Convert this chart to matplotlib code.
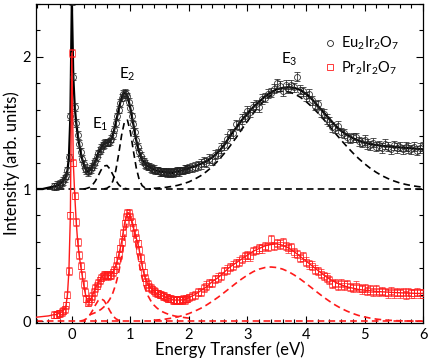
import numpy as np
import matplotlib
matplotlib.use('Agg')
import matplotlib.pyplot as plt
from matplotlib.lines import Line2D
from matplotlib.ticker import MultipleLocator

plt.rcParams['font.family'] = ['Lato', 'DejaVu Sans']
plt.rcParams['mathtext.default'] = 'regular'

# energy grids (eV): dense below 2 eV, coarser above
e_lo = np.round(np.arange(-0.3, 2.0001, 0.025), 3)
e_hi = np.round(np.arange(2.05, 6.0001, 0.05), 2)

# Eu2Ir2O7 intensity (plotted with +1 offset)
eu_lo = [0.02, 0.02, 0.03, 0.03, 0.04, 0.05, 0.06, 0.08, 0.10, 0.14,
         0.24, 0.55, 1.42, 0.85, 0.62, 0.50, 0.41, 0.34, 0.28, 0.23,
         0.19, 0.16, 0.14, 0.13, 0.14, 0.15, 0.17, 0.19, 0.21, 0.24,
         0.27, 0.29, 0.31, 0.33, 0.34, 0.35, 0.35, 0.35, 0.36, 0.38,
         0.41, 0.45, 0.50, 0.55, 0.60, 0.65, 0.69, 0.72, 0.73, 0.72,
         0.70, 0.66, 0.61, 0.55, 0.49, 0.43, 0.37, 0.32, 0.28, 0.25,
         0.22, 0.21, 0.19, 0.18, 0.17, 0.17, 0.16, 0.15, 0.15, 0.14,
         0.14, 0.14, 0.13, 0.13, 0.13, 0.13, 0.13, 0.12, 0.13, 0.12,
         0.13, 0.12, 0.13, 0.13, 0.14, 0.13, 0.14, 0.14, 0.14, 0.15,
         0.15, 0.15, 0.16]
eu_hi = [0.16, 0.17, 0.18, 0.19, 0.21, 0.20, 0.23, 0.22, 0.26, 0.27,
         0.31, 0.33, 0.38, 0.42, 0.42, 0.49, 0.48, 0.53, 0.55, 0.59,
         0.58, 0.62, 0.64, 0.62, 0.68, 0.69, 0.72, 0.73, 0.76, 0.80,
         0.78, 0.74, 0.79, 0.76, 0.79, 0.77, 0.85, 0.75, 0.74, 0.70,
         0.72, 0.67, 0.63, 0.64, 0.58, 0.57, 0.53, 0.51, 0.47, 0.46,
         0.48, 0.43, 0.42, 0.39, 0.38, 0.39, 0.39, 0.36, 0.35, 0.37,
         0.34, 0.33, 0.35, 0.32, 0.33, 0.31, 0.34, 0.32, 0.30, 0.33,
         0.31, 0.32, 0.30, 0.32, 0.31, 0.30, 0.32, 0.29, 0.31, 0.32]

# Pr2Ir2O7 intensity
pr_lo = [0.05, 0.05, 0.05, 0.06, 0.06, 0.07, 0.08, 0.09, 0.12, 0.20,
         0.38, 0.80, 2.03, 1.20, 0.95, 0.75, 0.60, 0.50, 0.42, 0.35,
         0.28, 0.22, 0.17, 0.14, 0.15, 0.17, 0.19, 0.22, 0.25, 0.27,
         0.29, 0.31, 0.33, 0.34, 0.35, 0.35, 0.35, 0.34, 0.35, 0.35,
         0.37, 0.39, 0.42, 0.46, 0.50, 0.55, 0.60, 0.67, 0.74, 0.79,
         0.82, 0.82, 0.79, 0.75, 0.71, 0.67, 0.63, 0.59, 0.54, 0.48,
         0.42, 0.37, 0.33, 0.30, 0.28, 0.26, 0.25, 0.24, 0.23, 0.22,
         0.21, 0.21, 0.20, 0.20, 0.19, 0.19, 0.18, 0.18, 0.17, 0.17,
         0.17, 0.16, 0.16, 0.16, 0.16, 0.16, 0.16, 0.16, 0.17, 0.16,
         0.17, 0.17, 0.18]
pr_hi = [0.19, 0.20, 0.22, 0.22, 0.25, 0.27, 0.29, 0.29, 0.32, 0.33,
         0.34, 0.38, 0.39, 0.41, 0.42, 0.44, 0.45, 0.47, 0.49, 0.50,
         0.49, 0.53, 0.54, 0.55, 0.55, 0.57, 0.56, 0.62, 0.57, 0.59,
         0.58, 0.60, 0.57, 0.55, 0.56, 0.52, 0.51, 0.48, 0.49, 0.45,
         0.43, 0.42, 0.39, 0.38, 0.36, 0.34, 0.33, 0.31, 0.28, 0.29,
         0.27, 0.29, 0.27, 0.28, 0.26, 0.25, 0.27, 0.25, 0.24, 0.25,
         0.23, 0.24, 0.22, 0.24, 0.22, 0.23, 0.22, 0.21, 0.23, 0.21,
         0.22, 0.21, 0.22, 0.20, 0.22, 0.21, 0.21, 0.22, 0.21, 0.21]

eu_err = [0.028, 0.035]   # below / above 2 eV
pr_err = [0.028, 0.032]

# fit curves: left tail and the part above 2 eV (below 2 eV the fit follows the data)
fit_left_e = [-0.61, -0.5, -0.4]
eu_fit_left = [0.0, 0.0, 0.01]
pr_fit_left = [0.03, 0.035, 0.04]
fit_hi_e = np.round(np.arange(2.1, 6.0001, 0.1), 2)
eu_fit_hi = [0.17, 0.19, 0.21, 0.24, 0.28, 0.33, 0.40, 0.46, 0.52, 0.57,
             0.62, 0.66, 0.70, 0.73, 0.755, 0.765, 0.77, 0.765, 0.75, 0.72,
             0.68, 0.63, 0.58, 0.53, 0.48, 0.44, 0.41, 0.385, 0.365, 0.35,
             0.34, 0.333, 0.327, 0.322, 0.318, 0.314, 0.311, 0.308, 0.305, 0.30]
pr_fit_hi = [0.20, 0.23, 0.26, 0.30, 0.33, 0.37, 0.41, 0.44, 0.47, 0.50,
             0.53, 0.55, 0.57, 0.58, 0.585, 0.575, 0.555, 0.525, 0.49, 0.455,
             0.42, 0.385, 0.35, 0.32, 0.295, 0.275, 0.26, 0.25, 0.24, 0.235,
             0.23, 0.225, 0.222, 0.22, 0.217, 0.215, 0.213, 0.212, 0.21, 0.21]

# fitted peak components (dashed)
eu_e1_e = np.round(np.arange(0.2, 0.9501, 0.05), 2)
eu_e1 = [0.0, 0.004, 0.012, 0.029, 0.059, 0.100, 0.144, 0.174, 0.178, 0.152,
         0.109, 0.067, 0.033, 0.014, 0.005, 0.001]
eu_e2_e = np.round(np.arange(0.55, 1.3501, 0.05), 2)
eu_e2 = [0.001, 0.006, 0.021, 0.059, 0.139, 0.264, 0.407, 0.511, 0.521, 0.433,
         0.292, 0.161, 0.072, 0.026, 0.008, 0.002, 0.0]
e3_e = np.round(np.arange(1.4, 6.0001, 0.1), 2)
eu_e3 = [0.005, 0.008, 0.0125, 0.019, 0.027, 0.039, 0.054, 0.075, 0.100, 0.132,
         0.170, 0.215, 0.267, 0.324, 0.385, 0.449, 0.513, 0.573, 0.629, 0.675,
         0.710, 0.733, 0.740, 0.735, 0.720, 0.695, 0.662, 0.622, 0.577, 0.527,
         0.475, 0.422, 0.370, 0.320, 0.273, 0.230, 0.191, 0.156, 0.126, 0.100,
         0.079, 0.061, 0.046, 0.035, 0.026, 0.019, 0.014]
pr_e1_e = np.round(np.arange(0.15, 0.8501, 0.05), 2)
pr_e1 = [0.002, 0.007, 0.019, 0.042, 0.078, 0.120, 0.156, 0.170, 0.156, 0.120,
         0.078, 0.042, 0.019, 0.007, 0.002]
pr_e2_e = np.round(np.arange(0.3, 2.0001, 0.05), 2)
pr_e2 = [0.048, 0.056, 0.065, 0.076, 0.090, 0.109, 0.134, 0.167, 0.213, 0.278,
         0.367, 0.488, 0.632, 0.760, 0.798, 0.716, 0.573, 0.436, 0.328, 0.249,
         0.193, 0.153, 0.123, 0.101, 0.084, 0.071, 0.061, 0.0525, 0.046, 0.040,
         0.036, 0.032, 0.029, 0.026, 0.023]
pr_e3 = [0.0075, 0.011, 0.016, 0.023, 0.032, 0.043, 0.058, 0.076, 0.097, 0.122,
         0.151, 0.182, 0.216, 0.251, 0.286, 0.319, 0.349, 0.375, 0.394, 0.406,
         0.410, 0.406, 0.394, 0.375, 0.349, 0.319, 0.286, 0.251, 0.216, 0.182,
         0.151, 0.122, 0.097, 0.076, 0.058, 0.043, 0.032, 0.023, 0.016, 0.011,
         0.0075, 0.005, 0.003, 0.002, 0.001, 0.0, 0.0]

eu_offset = 1.0
red = '#ff1a1a'

fig = plt.figure(figsize=(4.3, 3.58), dpi=100)
ax = fig.add_axes([0.084, 0.098, 0.9, 0.891])

dash = (0, (4, 2.5))

# Eu2Ir2O7 (offset)
ax.axhline(eu_offset, color='k', lw=1.2, ls=dash, zorder=2)
ax.plot(eu_e1_e, np.array(eu_e1) + eu_offset, color='k', lw=1.2, ls=dash)
ax.plot(eu_e2_e, np.array(eu_e2) + eu_offset, color='k', lw=1.2, ls=dash)
ax.plot(e3_e, np.array(eu_e3) + eu_offset, color='k', lw=1.2, ls=dash)
ax.plot(np.concatenate([fit_left_e, e_lo, fit_hi_e]),
        np.concatenate([eu_fit_left, eu_lo, eu_fit_hi]) + eu_offset,
        color='k', lw=1.6, zorder=3)
eu_style = dict(fmt='o', ms=4.3, mfc='none', mec='#222222', mew=0.6, ecolor='#222222',
                elinewidth=0.6, capsize=2.4, capthick=0.6, alpha=0.9, zorder=4)
ax.errorbar(e_lo, np.array(eu_lo) + eu_offset, yerr=eu_err[0], **eu_style)
ax.errorbar(e_hi, np.array(eu_hi) + eu_offset, yerr=eu_err[1], **eu_style)

# Pr2Ir2O7
ax.axhline(0, color=red, lw=1.2, ls=dash, zorder=2)
ax.plot(pr_e1_e, pr_e1, color=red, lw=1.2, ls=dash)
ax.plot(pr_e2_e, pr_e2, color=red, lw=1.2, ls=dash)
ax.plot(e3_e, pr_e3, color=red, lw=1.2, ls=dash)
ax.plot(np.concatenate([fit_left_e, e_lo, fit_hi_e]),
        np.concatenate([pr_fit_left, pr_lo, pr_fit_hi]),
        color=red, lw=1.0, zorder=5)
pr_style = dict(fmt='s', ms=3.7, mfc='none', mec=red, mew=0.6, ecolor=red,
                elinewidth=0.6, capsize=2.4, capthick=0.6, alpha=0.8, zorder=6)
ax.errorbar(e_lo, pr_lo, yerr=pr_err[0], **pr_style)
ax.errorbar(e_hi, pr_hi, yerr=pr_err[1], **pr_style)

# peak labels
ax.text(0.49, 1.49, 'E$_1$', ha='center', va='center', fontsize=11)
ax.text(0.95, 1.87, 'E$_2$', ha='center', va='center', fontsize=11)
ax.text(3.72, 1.98, 'E$_3$', ha='center', va='center', fontsize=11)

handles = [Line2D([], [], ls='none', marker='o', ms=4.3, mfc='none', mec='#222222', mew=0.6),
           Line2D([], [], ls='none', marker='s', ms=3.7, mfc='none', mec=red, mew=0.6)]
ax.legend(handles, ['Eu$_2$Ir$_2$O$_7$', 'Pr$_2$Ir$_2$O$_7$'], loc='upper right',
          bbox_to_anchor=(0.965, 0.935), frameon=False, fontsize=10.5,
          handlelength=0.6, handletextpad=0.45, labelspacing=0.5, borderpad=0.2)

ax.set_xlim(-0.61, 6.0)
ax.set_ylim(-0.013, 2.40)
ax.set_xticks(range(0, 7))
ax.set_yticks([0, 1, 2])
ax.xaxis.set_minor_locator(MultipleLocator(0.2))
ax.yaxis.set_minor_locator(MultipleLocator(0.2))
ax.tick_params(which='both', direction='in', top=True, right=True, labelsize=10.5, width=0.8)
ax.tick_params(which='major', length=5)
ax.tick_params(which='minor', length=3)
for s in ax.spines.values():
    s.set_linewidth(0.9)
ax.set_xlabel('Energy Transfer (eV)', fontsize=12, labelpad=0)
ax.set_ylabel('Intensity (arb. units)', fontsize=12, labelpad=2)

fig.savefig('out.png', dpi=100)
